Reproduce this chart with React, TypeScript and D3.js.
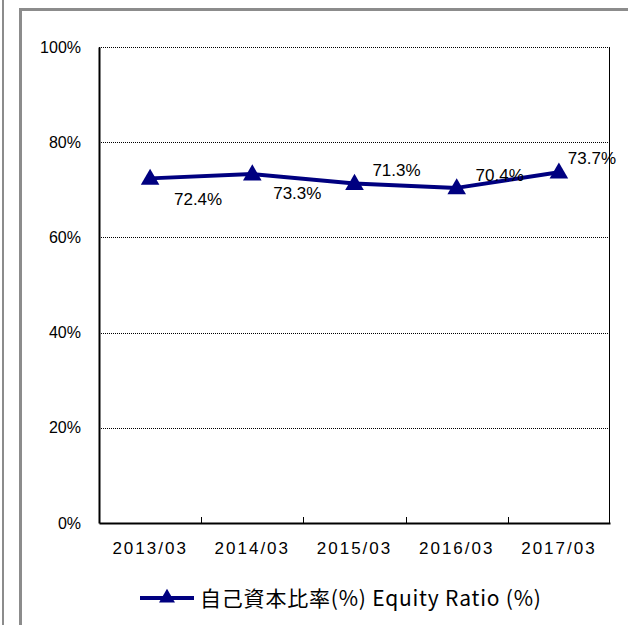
import * as d3 from 'd3';
import React, { useEffect, useRef } from 'react';

const years = ['2013/03', '2014/03', '2015/03', '2016/03', '2017/03'];
const equityRatio = [72.4, 73.3, 71.3, 70.4, 73.7];
const yTicks = [0, 20, 40, 60, 80, 100];
const legendLabel = '自己資本比率(%) Equity Ratio (%)';

// label offsets from each point (dx, dy), as placed in the original chart
const labelOffsets: [number, number][] = [
  [48, 21],
  [45, 19],
  [42, -14],
  [43, -13],
  [33, -14],
];

const App: React.FC = () => {
  const svgRef = useRef<SVGSVGElement | null>(null);

  useEffect(() => {
    if (!svgRef.current) return;
    const svg = d3.select(svgRef.current);
    svg.selectAll('*').remove();

    const margin = { top: 47, right: 18, bottom: 102, left: 99 };
    const width = 628 - margin.left - margin.right;
    const height = 625 - margin.top - margin.bottom;
    const font = '"Liberation Sans", Arial, sans-serif';
    const navy = '#000080';

    svg.append('rect').attr('width', 628).attr('height', 625).attr('fill', '#fff');

    // outer frames
    svg.append('line').attr('x1', 3).attr('x2', 3).attr('y1', 0).attr('y2', 625)
      .attr('stroke', '#8c8c8c').attr('stroke-width', 2);
    svg.append('rect').attr('x', 20.5).attr('y', 9.5).attr('width', 640).attr('height', 640)
      .attr('fill', 'none').attr('stroke', '#8c8c8c').attr('stroke-width', 3);

    const g = svg.append('g').attr('transform', `translate(${margin.left},${margin.top})`);

    const x = d3.scaleBand().domain(years).range([0, width]);
    const y = d3.scaleLinear().domain([0, 100]).range([height, 0]);

    // gridlines
    g.selectAll('line.grid')
      .data(yTicks.filter((t) => t > 0 && t < 100))
      .enter()
      .append('line')
      .attr('x1', 0).attr('x2', width)
      .attr('y1', (d) => Math.round(y(d)) + 0.5).attr('y2', (d) => Math.round(y(d)) + 0.5)
      .attr('stroke', '#000').attr('stroke-width', 1).attr('stroke-dasharray', '1,1');

    // plot frame: dotted top, solid right
    g.append('line').attr('x1', 0).attr('x2', width).attr('y1', 0.5).attr('y2', 0.5)
      .attr('stroke', '#000').attr('stroke-dasharray', '1,1');
    g.append('line').attr('x1', width - 0.5).attr('x2', width - 0.5).attr('y1', 0).attr('y2', height)
      .attr('stroke', '#000');

    const yAxis = g.append('g').call(
      d3.axisLeft(y).tickValues(yTicks).tickSize(0).tickPadding(18).tickFormat((d) => `${d}%`)
    );
    yAxis.select('.domain').attr('stroke', '#000').attr('stroke-width', 2);
    yAxis.selectAll('text').attr('font-family', font).attr('font-size', 16).attr('fill', '#000');

    const xAxis = g.append('g').attr('transform', `translate(0,${height})`).call(
      d3.axisBottom(x).tickSize(0).tickPadding(19)
    );
    xAxis.select('.domain').attr('stroke', '#000').attr('stroke-width', 2);
    xAxis.selectAll('text').attr('font-family', font).attr('font-size', 17)
      .attr('letter-spacing', 2).attr('fill', '#000');

    // category boundary ticks pointing upward
    g.selectAll('line.xtick')
      .data(years.slice(1))
      .enter()
      .append('line')
      .attr('x1', (d) => Math.round(x(d)!) + 0.5).attr('x2', (d) => Math.round(x(d)!) + 0.5)
      .attr('y1', height).attr('y2', height - 6)
      .attr('stroke', '#000');

    const cx = (i: number) => x(years[i])! + x.bandwidth() / 2;

    const line = d3.line<number>().x((_, i) => cx(i)).y((d) => y(d));
    g.append('path').datum(equityRatio).attr('d', line)
      .attr('fill', 'none').attr('stroke', navy).attr('stroke-width', 4).attr('stroke-linejoin', 'round');

    const tri = d3.symbol().type(d3.symbolTriangle).size(150);
    g.selectAll('path.marker')
      .data(equityRatio)
      .enter()
      .append('path')
      .attr('d', tri)
      .attr('transform', (d, i) => `translate(${cx(i)},${y(d) + 1})`)
      .attr('fill', navy);

    g.selectAll('text.label')
      .data(equityRatio)
      .enter()
      .append('text')
      .attr('x', (d, i) => cx(i) + labelOffsets[i][0])
      .attr('y', (d, i) => y(d) + labelOffsets[i][1])
      .attr('text-anchor', 'middle').attr('dy', '0.35em')
      .attr('font-family', font).attr('font-size', 17).attr('fill', '#000')
      .text((d) => `${d.toFixed(1)}%`);

    // legend
    const lg = svg.append('g').attr('transform', 'translate(140,598)');
    lg.append('line').attr('x1', 0).attr('x2', 54).attr('y1', 0).attr('y2', 0)
      .attr('stroke', navy).attr('stroke-width', 4);
    lg.append('path').attr('d', d3.symbol().type(d3.symbolTriangle).size(110))
      .attr('transform', 'translate(27,0)').attr('fill', navy);
    lg.append('text').attr('x', 60).attr('y', 1).attr('dy', '0.35em')
      .attr('font-family', '"Noto Sans CJK JP", sans-serif').attr('font-size', 21)
      .attr('letter-spacing', 0.8).attr('fill', '#000')
      .text(legendLabel);
  }, []);

  return (
    <svg
      ref={svgRef}
      width={628}
      height={625}
      style={{ position: 'absolute', left: 0, top: 0, display: 'block' }}
    />
  );
};

export default App;
